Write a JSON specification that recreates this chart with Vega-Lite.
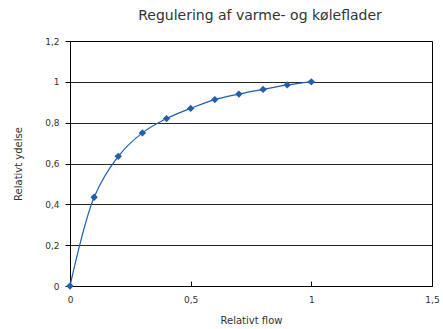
{
  "$schema": "https://vega.github.io/schema/vega-lite/v6.json",
  "width": 362,
  "height": 245,
  "autosize": "none",
  "padding": {"left": 70, "top": 41, "right": 11, "bottom": 43},
  "background": "white",
  "title": {"text": "Regulering af varme- og køleflader", "fontSize": 14, "font": "DejaVu Sans", "fontWeight": "normal", "color": "#333333", "offset": 14, "dx": 9},
  "config": {
    "view": {"stroke": "#000000", "strokeWidth": 1},
    "axis": {"labelFont": "DejaVu Sans", "titleFont": "DejaVu Sans", "labelFontSize": 9, "titleFontSize": 10, "titleFontWeight": "normal", "labelColor": "#333333", "titleColor": "#333333", "domainColor": "#000000", "tickColor": "#000000", "gridColor": "#000000", "gridOpacity": 0.85}
  },
  "data": {"values": [
    {"flow": 0, "ydelse": 0},
    {"flow": 0.1, "ydelse": 0.435},
    {"flow": 0.2, "ydelse": 0.635},
    {"flow": 0.3, "ydelse": 0.75},
    {"flow": 0.4, "ydelse": 0.82},
    {"flow": 0.5, "ydelse": 0.87},
    {"flow": 0.6, "ydelse": 0.913},
    {"flow": 0.7, "ydelse": 0.94},
    {"flow": 0.8, "ydelse": 0.963},
    {"flow": 0.9, "ydelse": 0.985},
    {"flow": 1, "ydelse": 1}
  ]},
  "encoding": {
    "x": {"field": "flow", "type": "quantitative", "title": "Relativt flow",
      "scale": {"domain": [0, 1.5], "nice": false},
      "axis": {"values": [0, 0.5, 1, 1.5], "grid": false, "tickSize": -5, "labelPadding": 14, "labelFlush": false, "labelExpr": "replace(format(datum.value, '~g'), '.', ',')", "titleY": 29}},
    "y": {"field": "ydelse", "type": "quantitative", "title": "Relativt ydelse",
      "scale": {"domain": [0, 1.2], "nice": false},
      "axis": {"values": [0, 0.2, 0.4, 0.6, 0.8, 1, 1.2], "grid": true, "tickSize": 5, "labelPadding": 6, "labelFlush": false, "labelExpr": "replace(format(datum.value, '~g'), '.', ',')", "titleX": -47}}
  },
  "layer": [
    {"mark": {"type": "line", "interpolate": "catmull-rom", "color": "#1f5fad", "strokeWidth": 1.2}},
    {"mark": {"type": "point", "shape": "diamond", "filled": true, "opacity": 1, "color": "#1f5fad", "size": 55}}
  ]
}
